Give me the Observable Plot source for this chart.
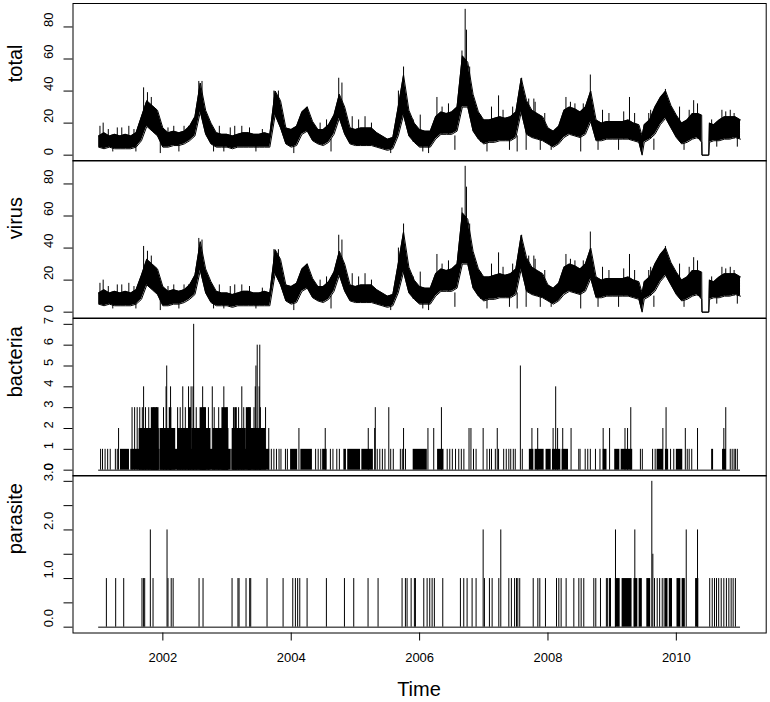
<!DOCTYPE html>
<html><head><meta charset="utf-8">
<script src="https://cdn.jsdelivr.net/npm/d3@7"></script>
<script src="https://cdn.jsdelivr.net/npm/@observablehq/plot@0.6"></script>
<style>
body{margin:0;background:#fff;}
#wrap{position:relative;width:770px;height:702px;background:#fff;font-family:"Liberation Sans",Arial,sans-serif;color:#000;overflow:hidden;}
#wrap svg{position:absolute;left:0;overflow:visible;}
#xlab{position:absolute;left:319px;width:200px;top:676px;text-align:center;font-size:20px;line-height:26px;}
</style></head><body><div id="wrap"><div id="xlab">Time</div></div>
<script>
// ---------- data ----------
const seriesStart = 2001, seriesEnd = 2011, monthsPerYear = 12;

// total: monthly lower / upper edge of the daily band
const totalLo = [
 5,4,5,4,4,4,4,5,9,18,15,12,
 5,5,6,6,7,9,12,27,13,7,5,5,
 5,4,5,5,5,5,5,5,5,25,17,7,
 5,6,13,15,9,7,6,8,13,23,13,7,
 6,6,6,6,5,4,3,4,12,25,12,8,
 5,5,5,10,13,13,13,15,30,30,15,10,
 7,8,8,9,9,9,11,27,13,11,10,9,
 7,5,7,11,13,12,11,13,21,9,9,10,
 10,10,10,10,9,8,8,10,13,19,23,17,
 11,7,8,10,11,0,0,9,9,10,10,11,
 10];
const totalHi = [
 12,14,12,13,12,13,12,14,24,34,31,28,
 17,14,15,14,15,18,24,45,28,20,14,13,
 13,12,13,14,14,13,13,14,13,40,34,17,
 16,18,27,30,21,16,16,19,25,38,30,17,
 16,17,17,17,14,12,10,11,30,50,28,20,
 16,15,15,24,27,26,27,30,62,58,38,27,
 22,22,23,24,23,24,27,48,34,28,26,24,
 17,15,18,28,30,29,27,30,40,22,20,21,
 21,21,21,22,20,19,19,22,30,36,40,31,
 25,20,22,26,26,0,0,19,22,24,24,24,
 22];
// virus: same layout
const virusLo = [
 5,4,5,4,4,4,4,5,8,17,14,11,
 4,4,5,5,6,8,11,26,12,6,4,4,
 4,3,4,4,4,4,4,4,4,24,17,7,
 5,6,13,15,9,7,6,8,13,23,13,7,
 6,6,6,6,5,4,3,4,12,25,12,8,
 5,5,5,10,13,13,13,15,30,30,15,10,
 7,8,8,9,9,9,11,27,13,11,10,9,
 7,5,7,11,13,12,11,13,21,9,9,10,
 10,10,10,10,9,8,8,10,13,19,23,17,
 11,7,8,10,11,0,0,9,9,10,10,11,
 10];
const virusHi = [
 12,14,12,13,12,13,12,14,23,33,30,27,
 16,13,14,13,14,17,23,44,27,19,13,12,
 12,11,12,13,13,12,12,13,12,39,33,17,
 16,18,27,30,21,16,16,19,25,38,30,17,
 16,17,17,17,14,12,10,11,30,50,28,20,
 16,15,15,24,27,26,27,30,62,58,38,27,
 22,22,23,24,23,24,27,48,34,28,26,24,
 17,15,18,28,30,29,27,30,40,22,20,21,
 21,21,21,22,20,19,19,22,30,36,40,31,
 25,20,22,26,26,0,0,19,22,24,24,24,
 22];
// short events between the monthly samples (dip to zero, missing stretch)
const eventTime = [2009.467, 2010.395, 2010.400, 2010.505, 2010.515];
const eventLo   = [0, 8, 0, 0, 8];
const eventHi   = [12, 25, 0, 0, 20];

// single-day excursions of total
const totalSpikeT = [2001.02,2001.07,2001.15,2001.22,2001.29,2001.36,2001.47,2001.55,2001.58,2001.70,2001.76,2001.82,2001.96,
 2002.08,2002.17,2002.25,2002.33,2002.40,2002.56,2002.61,2002.79,2002.88,2002.95,
 2003.05,2003.12,2003.23,2003.35,2003.45,2003.55,2003.73,2003.80,
 2004.04,2004.25,2004.45,2004.55,2004.62,2004.74,2004.79,2004.95,
 2005.05,2005.15,2005.25,2005.55,2005.67,2005.75,2005.90,
 2006.01,2006.05,2006.14,2006.27,2006.35,2006.45,2006.55,2006.66,2006.71,2006.73,2006.78,2006.95,
 2007.05,2007.12,2007.23,2007.30,2007.40,2007.45,2007.52,2007.59,2007.66,2007.70,2007.78,2007.80,2007.88,2007.95,
 2008.05,2008.28,2008.35,2008.42,2008.51,2008.55,2008.66,2008.78,2008.85,2008.95,
 2009.10,2009.18,2009.27,2009.35,2009.57,2009.60,2009.65,2009.83,
 2010.05,2010.12,2010.20,2010.27,2010.33,2010.55,2010.63,2010.71,2010.77,2010.84,2010.90,2010.95];
const totalSpikeLo = [5,10,8,2,8,8,8,8,2,20,20,20,1,
 8,8,2,8,10,30,30,2,8,2,
 8,8,10,8,2,8,25,25,
 1,15,8,8,2,30,28,10,
 10,10,8,1,20,35,8,
 10,2,1,15,13,13,3,35,40,35,25,8,
 2,10,15,10,3,10,2,30,3,15,15,15,3,10,
 3,15,15,15,2,15,25,3,10,10,
 3,10,15,10,10,10,3,25,
 10,3,10,15,10,10,5,15,10,15,10,5];
const totalSpikeHi = [18,20,16,12,17,17,18,16,10,42,39,36,10,
 17,18,10,18,18,46,46,10,18,10,
 17,18,18,17,8,16,40,40,
 10,30,20,22,10,48,45,24,
 22,24,20,8,40,55,22,
 25,8,8,36,30,32,12,65,91,78,55,25,
 8,30,37,28,10,30,12,48,20,35,35,33,12,26,
 8,36,33,32,12,32,50,10,28,26,
 10,27,36,26,26,28,10,41,
 30,12,28,34,32,22,15,28,27,28,26,12];
// single-day excursions of virus (same days)
const virusSpikeT = totalSpikeT;
const virusSpikeLo = totalSpikeLo;
const virusSpikeHi = [18,20,16,12,17,17,18,16,10,41,38,35,9,
 16,17,9,17,17,46,45,9,17,9,
 16,17,17,16,8,15,39,39,
 10,30,20,22,10,48,45,24,
 22,24,20,8,40,55,22,
 25,8,8,36,30,32,12,65,91,78,55,25,
 8,30,37,28,10,30,12,48,20,35,35,33,12,26,
 8,36,33,32,12,32,50,10,28,26,
 10,27,36,26,26,28,10,41,
 30,12,28,34,32,22,15,28,27,28,26,12];

// bacteria: daily counts above zero (single days)
const bactTime = [
 2001.03,2001.06,2001.10,2001.14,2001.18,2001.26,2001.29,2001.31,
 2001.52,2001.56,2001.60,2001.64,2001.68,2001.70,2001.73,2001.78,2001.86,2001.90,
 2002.01,2002.05,2002.06,2002.12,2002.23,2002.27,2002.31,2002.35,2002.40,2002.43,2002.44,2002.47,2002.48,2002.52,2002.62,2002.64,2002.71,2002.77,2002.80,2002.87,2002.95,2003.00,
 2003.10,2003.18,2003.23,2003.26,2003.34,2003.42,2003.44,2003.45,2003.47,2003.50,2003.51,2003.52,2003.60,2003.65,
 2003.69,2003.73,2003.77,2003.81,2003.84,2003.91,2003.94,
 2004.12,2004.38,2004.42,2004.46,2004.49,2004.53,2004.61,2004.65,2004.71,2004.75,
 2005.20,2005.30,2005.31,2005.34,2005.38,2005.42,2005.46,2005.52,2005.55,2005.59,2005.70,2005.73,2005.75,2005.78,
 2006.13,2006.22,2006.34,2006.43,2006.47,2006.51,2006.56,2006.61,2006.65,2006.69,2006.77,2006.80,2006.84,2006.88,2006.99,
 2007.05,2007.09,2007.12,2007.18,2007.21,2007.23,2007.31,2007.35,2007.39,2007.42,2007.46,2007.49,2007.57,2007.60,2007.75,2007.84,
 2008.08,2008.12,2008.15,2008.23,2008.36,2008.48,2008.50,2008.58,2008.62,2008.66,2008.74,2008.81,2008.86,2008.96,
 2009.20,2009.24,2009.29,2009.44,2009.47,2009.63,2009.67,2009.79,2009.84,2009.91,2009.96,
 2010.14,2010.17,2010.20,2010.24,2010.33,2010.74,2010.77,2010.84,2010.87,2010.90,2010.92,2010.95];
const bactCount = [
 1,1,1,1,1,1,1,2,
 3,3,3,3,3,4,3,3,3,3,
 3,4,5,4,3,3,4,3,4,3,4,4,7,3,4,3,3,4,3,3,4,3,
 3,3,4,3,3,3,4,5,6,4,6,3,3,2,
 1,1,1,1,1,1,1,
 2,1,1,1,1,2,1,1,1,1,
 2,2,3,1,1,1,1,3,1,1,1,1,2,1,
 2,2,3,1,1,1,1,1,1,1,2,2,1,1,2,
 1,1,1,1,2,1,1,1,1,1,1,1,5,1,2,2,
 2,4,2,2,2,1,1,1,1,1,1,1,2,2,
 2,2,3,1,1,1,1,2,3,1,1,
 2,1,1,1,2,2,3,1,1,1,1,1];
// bacteria: runs of consecutive non-zero days (start, end, level)
const bactRunStart = [2001.34,2001.50,2001.955,2003.075,2003.99,2004.15,2004.50,2004.82,2004.88,2005.10,2005.90,2006.28,2007.71,2007.80,2007.97,2008.07,2008.22,2008.86,2009.04,2009.14,2009.70,2009.83,2010.00,2010.55,2010.72,
 2001.63,2001.955,2002.23,2002.45,2002.78,2003.08,2003.33,
 2001.82,2002.10,2002.40,2002.58,2002.92,2003.12,2003.30];
const bactRunEnd = [2001.48,2001.945,2003.065,2003.665,2004.10,2004.33,2004.56,2004.86,2005.08,2005.28,2006.12,2006.38,2007.78,2007.94,2008.05,2008.20,2008.32,2008.92,2009.12,2009.32,2009.80,2009.88,2010.10,2010.58,2010.78,
 2001.945,2002.20,2002.42,2002.75,2003.03,2003.30,2003.60,
 2001.94,2002.14,2002.44,2002.68,2003.02,2003.16,2003.38];
const bactRunLevel = [1,1,1,1,1,1,1,1,1,1,1,1,1,1,1,1,1,1,1,1,1,1,1,1,1,
 2,2,2,2,2,2,2,
 3,3,3,3,3,3,3];

// parasite: daily counts above zero
const parasiteTime = [
 2001.12,2001.265,2001.39,2001.675,2001.70,2001.717,2001.805,2001.847,2002.065,2002.08,2002.13,2002.16,2002.564,2002.626,
 2003.078,2003.17,2003.187,2003.296,2003.353,2003.369,2003.623,2003.873,2004.024,2004.065,2004.10,2004.133,2004.247,2004.548,2004.829,2004.974,
 2005.197,2005.353,2005.727,2005.779,2005.805,2005.868,2005.919,2005.935,2006.065,2006.117,2006.158,2006.195,2006.23,2006.361,
 2006.636,2006.688,2006.74,2006.818,2006.88,2006.99,2007.01,2007.088,2007.13,2007.234,2007.265,2007.39,2007.43,2007.48,2007.51,2007.53,2007.56,
 2007.77,2007.842,2007.873,2007.961,2008.133,2008.169,2008.205,2008.283,2008.403,2008.481,2008.517,2008.558,2008.714,2008.745,2008.818,
 2008.91,2008.93,2008.958,2008.974,2009.052,2009.353,2009.618,2009.634,2009.66,2009.702,2009.74,2009.78,2009.81,
 2010.154,2010.33,2010.52,2010.559,2010.595,2010.626,2010.66,2010.699,2010.74,2010.78,2010.818,2010.854,2010.885,2010.92];
const parasiteCount = [
 1,1,1,1,1,1,2,1,2,1,1,1,1,1,
 1,1,1,1,1,1,1,1,1,1,1,1,1,1,1,1,
 1,1,1,1,1,1,1,1,1,1,1,1,1,1,
 1,1,1,1,1,2,1,1,1,1,2,1,1,1,1,1,1,
 1,1,1,1,1,1,1,1,1,1,1,1,1,1,1,
 1,1,1,1,2,2,3,1.5,1,1,1,1,1,
 2,2,1,1,1,1,1,1,1,1,1,1,1,1];
const parasiteRunStart = [2009.05,2009.155,2009.34,2009.42,2009.54,2009.83,2009.89,2010.01,2010.09,2010.30];
const parasiteRunEnd   = [2009.125,2009.31,2009.40,2009.47,2009.60,2009.87,2009.94,2010.07,2010.14,2010.35];

// axis ticks
const xTicks = [2002, 2004, 2006, 2008, 2010];
const countTicks = [0, 20, 40, 60, 80];
const bactTicks = [0, 1, 2, 3, 4, 5, 6, 7];
const parTicks = [0, 0.5, 1, 1.5, 2, 2.5, 3];
const parLabels = [0, 1, 2, 3];

// ---------- build tables ----------
function bandTable(lo, hi, eLo, eHi) {
  const rows = lo.map((v, i) => ({t: seriesStart + i / monthsPerYear, lo: v, hi: hi[i]}));
  eventTime.forEach((t, i) => rows.push({t, lo: eLo[i], hi: eHi[i]}));
  return rows.sort((a, b) => a.t - b.t);
}
const totalBand = bandTable(totalLo, totalHi, eventLo, eventHi);
const virusBand = bandTable(virusLo, virusHi, eventLo, eventHi);
const totalSpikes = totalSpikeT.map((t, i) => ({t, lo: totalSpikeLo[i], hi: totalSpikeHi[i]}));
const virusSpikes = virusSpikeT.map((t, i) => ({t, lo: virusSpikeLo[i], hi: virusSpikeHi[i]}));
const bact = bactTime.map((t, i) => ({t, v: bactCount[i]}));
const bactRuns = bactRunStart.map((s, i) => ({s, e: bactRunEnd[i], v: bactRunLevel[i]}));
const para = parasiteTime.map((t, i) => ({t, v: parasiteCount[i]}));
const paraRuns = parasiteRunStart.map((s, i) => ({s, e: parasiteRunEnd[i], v: 1}));
const span = [{s: seriesStart, e: seriesEnd}];

// ---------- layout ----------
const FONT = '"Liberation Sans", Arial, sans-serif';
const W = 770, ML = 72.5, MR = 4.3, PH = 157.5, PAD = 4, TOP0 = 2.5;
const wrap = document.getElementById("wrap");
const pad4 = (lo, hi) => { const r = hi - lo; return [lo - 0.04 * r, hi + 0.04 * r]; };

function panel(k, name, yDomain, yTicks, yLabels, fmt, marks, withX) {
  const mb = withX ? 46 : PAD;
  const extra = [
    Plot.axisY(yTicks, {tickSize: 9, tickFormat: () => "", label: null, stroke: "black"}),
    Plot.text(yLabels, {y: d => d, text: fmt, frameAnchor: "left", dx: -24.5, rotate: -90, fontSize: 13, fill: "black"}),
    Plot.text([name], {text: d => d, frameAnchor: "left", dx: -57.5, rotate: -90, fontSize: 20, fill: "black"}),
    Plot.frame({stroke: "black", strokeWidth: 1})
  ];
  if (withX) extra.push(Plot.axisX(xTicks, {tickSize: 8, tickPadding: 12, fontSize: 13, label: null, tickFormat: d => String(d), stroke: "black", fill: "black"}));
  const svg = Plot.plot({
    width: W, height: PH + PAD + mb,
    marginLeft: ML, marginRight: MR, marginTop: PAD, marginBottom: mb,
    style: {background: "transparent", fontFamily: FONT, color: "black", overflow: "visible"},
    x: withX ? {domain: [2000.6, 2011.4]} : {domain: [2000.6, 2011.4], axis: null},
    y: {domain: yDomain},
    marks: [...marks, ...extra]
  });
  svg.style.top = (TOP0 + k * PH - PAD) + "px";
  wrap.appendChild(svg);
}

function bandMarks(band, spikes) {
  return [
    Plot.areaY(band, {x: "t", y1: "lo", y2: "hi", fill: "black"}),
    Plot.lineY(band, {x: "t", y: "lo", stroke: "black", strokeWidth: 1}),
    Plot.lineY(band, {x: "t", y: "hi", stroke: "black", strokeWidth: 1}),
    Plot.ruleX(spikes, {x: "t", y1: "lo", y2: "hi", stroke: "black", strokeWidth: 1})
  ];
}

panel(0, "total", pad4(0, 91), countTicks, countTicks, d => String(d), bandMarks(totalBand, totalSpikes), false);
panel(1, "virus", pad4(0, 91), countTicks, countTicks, d => String(d), bandMarks(virusBand, virusSpikes), false);
panel(2, "bacteria", pad4(0, 7), bactTicks, bactTicks, d => String(d), [
  Plot.ruleY(span, {x1: "s", x2: "e", y: 0, stroke: "black", strokeWidth: 1}),
  Plot.rect(bactRuns, {x1: "s", x2: "e", y1: 0, y2: "v", fill: "black"}),
  Plot.ruleX(bact, {x: "t", y1: 0, y2: "v", stroke: "black", strokeWidth: 1})
], false);
panel(3, "parasite", pad4(0, 3), parTicks, parLabels, d => d.toFixed(1), [
  Plot.ruleY(span, {x1: "s", x2: "e", y: 0, stroke: "black", strokeWidth: 1}),
  Plot.rect(paraRuns, {x1: "s", x2: "e", y1: 0, y2: "v", fill: "black"}),
  Plot.ruleX(para, {x: "t", y1: 0, y2: "v", stroke: "black", strokeWidth: 1})
], true);
</script></body></html>
